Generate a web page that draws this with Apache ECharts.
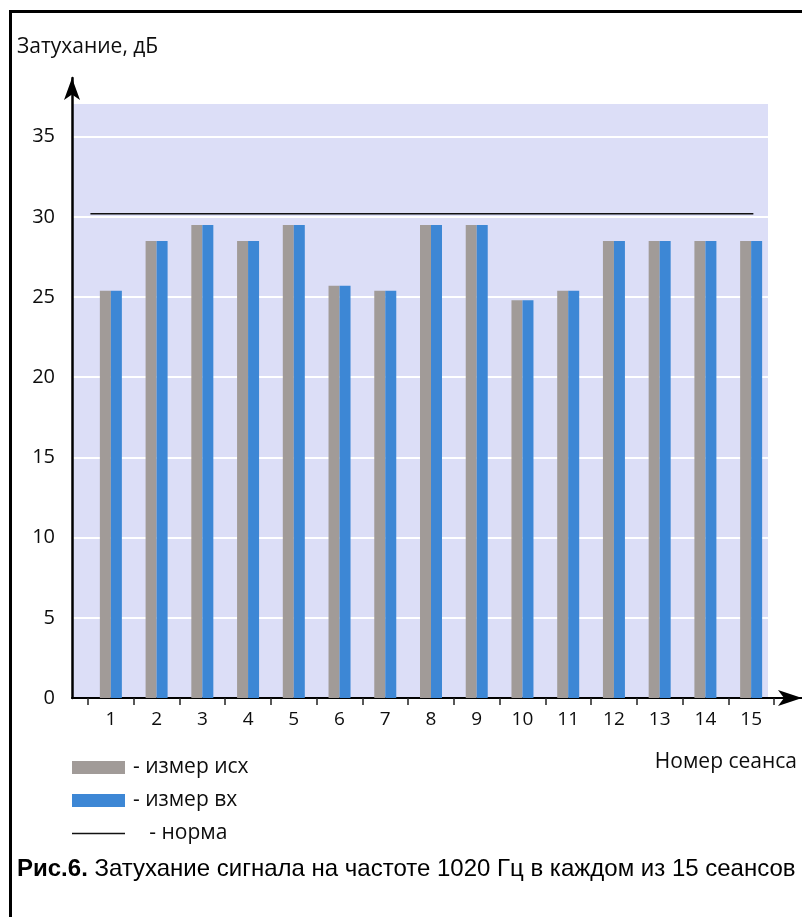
<!DOCTYPE html>
<html>
<head>
<meta charset="utf-8">
<script src="https://cdn.jsdelivr.net/npm/echarts@6/dist/echarts.min.js"></script>
<style>html,body{margin:0;padding:0;background:#fff;}#c{width:802px;height:917px;}</style>
</head>
<body>
<div id="c"></div>
<script>
// ---- data ----
const sessions = ['1','2','3','4','5','6','7','8','9','10','11','12','13','14','15'];
const izmerIsh = [25.4, 28.5, 29.5, 28.5, 29.5, 25.7, 25.4, 29.5, 29.5, 24.8, 25.4, 28.5, 28.5, 28.5, 28.5];
const izmerVh  = [25.4, 28.5, 29.5, 28.5, 29.5, 25.7, 25.4, 29.5, 29.5, 24.8, 25.4, 28.5, 28.5, 28.5, 28.5];
const normValue = 30.2;
const normSpan = [0.55, 15.05];   // in session units
const yMin = 0, yMax = 37.1, yStep = 5;
const seriesNames = ['измер исх', 'измер вх', 'норма'];

const FONT = 'Open Sans';
const TXT = '#0d0d0d';
const chart = echarts.init(document.getElementById('c'), null, {renderer: 'canvas'});
const option = {
  animation: false,
  title: [
    {text: 'Затухание, дБ', left: 17, top: 37, padding: 0,
     textStyle: {fontFamily: FONT, fontSize: 21, fontWeight: 'normal', color: TXT}},
    {text: 'Номер сеанса', right: 5, top: 752, padding: 0,
     textStyle: {fontFamily: FONT, fontSize: 21, fontWeight: 'normal', color: TXT}},
    {text: '{b|Рис.6.} Затухание сигнала на частоте 1020 Гц в каждом из 15 сеансов', left: 17, top: 857, padding: 0,
     textStyle: {fontFamily: 'Liberation Sans', fontSize: 24, fontWeight: 'normal', color: '#000',
       rich: {b: {fontFamily: 'Liberation Sans', fontSize: 24, fontWeight: 'bold', color: '#000'}}}}
  ],
  graphic: [
    {type: 'rect', silent: true, shape: {x: 10.5, y: 11.5, width: 1200, height: 1200},
     style: {fill: 'none', stroke: '#000', lineWidth: 3}}
  ],
  legend: {
    data: [
      {name: seriesNames[0], icon: 'rect'},
      {name: seriesNames[1], icon: 'rect'},
      {name: seriesNames[2], icon: 'path://M0,0 L53,0 L53,1.5 L0,1.5 Z'}
    ],
    orient: 'vertical', left: 72, top: 757, padding: 0,
    itemWidth: 53, itemHeight: 13, itemGap: 12, selectedMode: false,
    formatter: n => (n === 'норма' ? '   - ' + n : '- ' + n),
    textStyle: {fontFamily: FONT, fontSize: 21, color: TXT, padding: [0, 0, 0, 3]}
  },
  grid: [
    {left: 72, top: 103, right: 34, bottom: 219, show: true, backgroundColor: '#dcdef7', borderWidth: 0},
    {left: 88, top: 103, right: 28, bottom: 219},
    {left: 72, top: 78, right: 0, bottom: 219}
  ],
  xAxis: [
    {gridIndex: 0, type: 'value', min: 0.147, max: 15.37, show: false},
    {gridIndex: 1, type: 'category', data: sessions, boundaryGap: true,
     axisLine: {show: false},
     axisTick: {show: true, length: 7, lineStyle: {color: '#222', width: 1.5}},
     axisLabel: {margin: 12, fontSize: 19, color: TXT, fontFamily: FONT},
     splitLine: {show: false}},
    {gridIndex: 2, type: 'value', min: 0, max: 1,
     axisLine: {show: true, onZero: false, symbol: ['none', 'arrow'], symbolSize: [12, 24], lineStyle: {color: '#000', width: 2}},
     axisTick: {show: false}, axisLabel: {show: false}, splitLine: {show: false}}
  ],
  yAxis: [
    {gridIndex: 0, type: 'value', min: yMin, max: yMax, interval: yStep,
     axisLine: {show: false}, axisTick: {show: false},
     splitLine: {show: true, lineStyle: {color: '#ffffff', width: 2}},
     axisLabel: {margin: 17, fontSize: 20, color: TXT, fontFamily: FONT,
       formatter: v => (Math.abs(v % yStep) < 1e-9 ? String(v) : '')}},
    {gridIndex: 1, type: 'value', min: yMin, max: yMax, show: false},
    {gridIndex: 2, type: 'value', min: 0, max: 1,
     axisLine: {show: true, onZero: false, symbol: ['none', 'arrow'], symbolSize: [12, 22], lineStyle: {color: '#000', width: 2.5}},
     axisTick: {show: false}, axisLabel: {show: false}, splitLine: {show: false}}
  ],
  series: [
    {type: 'bar', name: seriesNames[0], xAxisIndex: 1, yAxisIndex: 1, data: izmerIsh,
     barWidth: 11, barGap: '0%', itemStyle: {color: '#a19b98'}},
    {type: 'bar', name: seriesNames[1], xAxisIndex: 1, yAxisIndex: 1, data: izmerVh,
     barWidth: 11, barGap: '0%', itemStyle: {color: '#3d87d5'}},
    {type: 'line', name: seriesNames[2], xAxisIndex: 0, yAxisIndex: 0,
     data: [[normSpan[0], normValue], [normSpan[1], normValue]],
     symbol: 'none', lineStyle: {color: '#111', width: 1.5}, itemStyle: {color: '#111'}}
  ]
};
chart.setOption(option);
</script>
</body>
</html>
